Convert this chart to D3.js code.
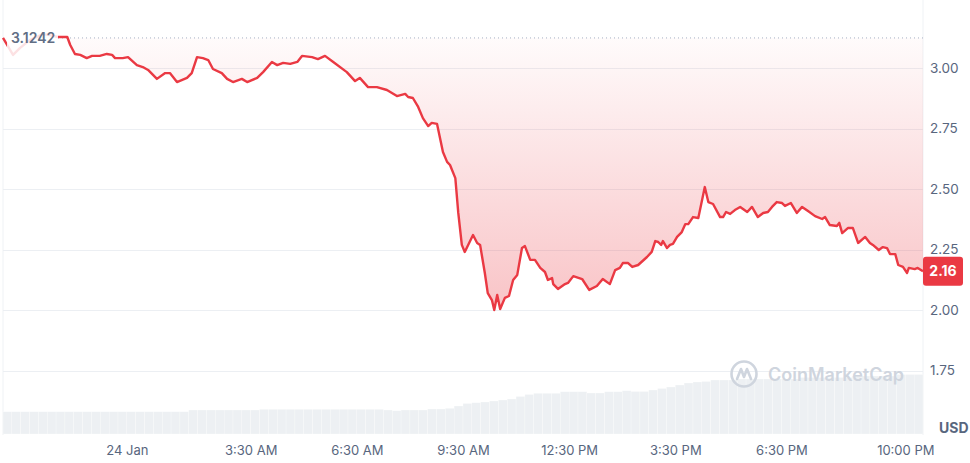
<!DOCTYPE html>
<html>
<head>
<meta charset="utf-8">
<script src="https://cdn.jsdelivr.net/npm/d3@7"></script>
<style>
  body { margin: 0; background: #fff; }
  svg text { font-family: Inter, "Noto Sans", sans-serif; }
</style>
</head>
<body>
<div id="chart"></div>
<script>
// minutes after 23 Jan 20:30
var priceMinutes = [0,8,17,29,46,68,80,93,105,109,114,122,131,142,151,164,176,185,190,203,212,227,237,246,261,275,283,295,312,320,329,339,348,356,371,380,390,405,414,431,441,456,465,475,487,499,507,524,534,546,560,583,597,605,619,634,651,668,682,687,695,704,712,721,727,736,746,753,758,767,772,778,783,797,804,809,817,822,829,833,838,843,851,858,865,872,880,885,894,902,911,919,924,931,933,941,953,958,967,982,994,1007,1017,1029,1038,1046,1051,1060,1067,1077,1092,1100,1106,1111,1116,1119,1126,1131,1136,1143,1151,1157,1162,1170,1179,1190,1196,1204,1216,1221,1226,1233,1241,1250,1262,1270,1280,1289,1297,1304,1312,1321,1326,1336,1346,1355,1365,1377,1389,1394,1402,1414,1418,1423,1433,1441,1450,1462,1470,1475,1485,1492,1499,1504,1513,1518,1526,1533,1536,1546,1551,1560];
var priceValues = [3.1242,3.091,3.054,3.083,3.116,3.140,3.136,3.128,3.128,3.128,3.095,3.058,3.054,3.041,3.050,3.050,3.058,3.054,3.041,3.041,3.045,3.012,3.004,2.992,2.955,2.979,2.979,2.942,2.959,2.979,3.045,3.041,3.033,2.996,2.979,2.955,2.942,2.955,2.942,2.959,2.983,3.025,3.012,3.021,3.017,3.025,3.050,3.045,3.037,3.050,3.025,2.983,2.946,2.959,2.921,2.921,2.909,2.884,2.893,2.880,2.876,2.839,2.793,2.760,2.773,2.769,2.653,2.612,2.599,2.545,2.401,2.269,2.240,2.310,2.277,2.269,2.153,2.070,2.041,2.000,2.062,2.004,2.050,2.058,2.124,2.145,2.256,2.264,2.207,2.207,2.174,2.157,2.124,2.132,2.107,2.087,2.107,2.112,2.140,2.128,2.083,2.099,2.128,2.107,2.165,2.174,2.194,2.194,2.178,2.186,2.219,2.240,2.285,2.281,2.269,2.285,2.256,2.269,2.273,2.302,2.322,2.355,2.355,2.384,2.380,2.508,2.446,2.438,2.384,2.384,2.405,2.397,2.413,2.426,2.405,2.426,2.384,2.401,2.405,2.426,2.446,2.442,2.430,2.442,2.401,2.426,2.409,2.388,2.376,2.384,2.351,2.347,2.360,2.318,2.339,2.339,2.277,2.302,2.277,2.269,2.248,2.260,2.256,2.231,2.231,2.186,2.178,2.153,2.174,2.169,2.174,2.16];

// volume, one bar per 15 minutes (billions)
var volumeValues = [2.23,2.23,2.23,2.23,2.23,2.23,2.23,2.23,2.23,2.23,2.23,2.23,2.23,2.23,2.23,2.23,2.23,2.23,2.23,2.23,2.23,
  2.40,2.40,2.40,2.40,2.40,2.40,2.40,2.40,
  2.47,2.47,2.47,2.47,2.47,2.47,2.47,2.47,2.47,2.47,2.47,2.47,2.47,2.47,
  2.40,2.33,2.40,2.40,2.40,2.50,2.50,2.57,2.80,3.05,3.13,3.20,3.30,3.40,3.50,3.75,3.95,
  4.07,4.07,4.07,4.23,4.23,4.23,4.10,4.10,4.23,4.23,4.33,4.25,4.25,4.40,4.55,4.70,4.90,5.10,5.20,5.25,
  5.40,5.40,5.40,5.50,5.50,5.50,5.50,5.50,5.50,5.50,5.65,5.65,5.65,5.65,5.65,5.65,
  5.80,5.80,5.80,5.80,5.80,5.95,5.95,5.95];

var yTicks = [3.00, 2.75, 2.50, 2.25, 2.00, 1.75];
var xTicks = ["2025-01-24T00:00", "2025-01-24T03:30", "2025-01-24T06:30", "2025-01-24T09:30",
              "2025-01-24T12:30", "2025-01-24T15:30", "2025-01-24T18:30", "2025-01-24T22:00"];
var openPrice = 3.1242;
var lastPrice = 2.16;

var width = 970, height = 463;
var left = 3, right = 923, bottom = 434;
var start = new Date(2025, 0, 23, 20, 30);

var svg = d3.select("#chart").append("svg")
  .attr("width", width)
  .attr("height", height);

var data = priceMinutes.map(function(m, i) {
  return { t: new Date(start.getTime() + m * 60000), p: priceValues[i] };
});

var x = d3.scaleTime()
  .domain([start, new Date(start.getTime() + 1560 * 60000)])
  .range([left, right]);

var y = d3.scaleLinear()
  .domain([2, 3])
  .range([310, 68]);

var yVol = d3.scaleLinear()
  .domain([0, 6])
  .range([bottom, 374]);

// gradient + clips
var defs = svg.append("defs");
var grad = defs.append("linearGradient")
  .attr("id", "redfill")
  .attr("gradientUnits", "userSpaceOnUse")
  .attr("x1", 0).attr("x2", 0)
  .attr("y1", y(openPrice)).attr("y2", y(2.0));
grad.append("stop").attr("offset", 0).attr("stop-color", "#ea3943").attr("stop-opacity", 0.02);
grad.append("stop").attr("offset", 1).attr("stop-color", "#ea3943").attr("stop-opacity", 0.3);

defs.append("clipPath").attr("id", "below")
  .append("rect").attr("x", left).attr("y", y(openPrice)).attr("width", right - left).attr("height", bottom);
defs.append("clipPath").attr("id", "above")
  .append("rect").attr("x", left).attr("y", 0).attr("width", right - left).attr("height", y(openPrice));

// borders
svg.append("line")
  .attr("x1", left).attr("x2", left).attr("y1", 0).attr("y2", bottom + 1)
  .attr("stroke", "#eff2f5");
svg.append("line")
  .attr("x1", right).attr("x2", right).attr("y1", 0).attr("y2", bottom + 1)
  .attr("stroke", "#eff2f5");

// grid
svg.append("g")
  .selectAll("line")
  .data(yTicks)
  .enter()
  .append("line")
    .attr("x1", left).attr("x2", right)
    .attr("y1", function(d) { return Math.round(y(d)) + 0.5; })
    .attr("y2", function(d) { return Math.round(y(d)) + 0.5; })
    .attr("stroke", "#eceff3");

// volume bars
var barW = (right - left) / volumeValues.length;
svg.append("g")
  .selectAll("rect")
  .data(volumeValues)
  .enter()
  .append("rect")
    .attr("x", function(d, i) { return x(new Date(start.getTime() + i * 15 * 60000)); })
    .attr("y", function(d) { return yVol(d); })
    .attr("width", barW)
    .attr("height", function(d) { return bottom - yVol(d); })
    .attr("fill", "#edf0f3")
    .attr("stroke", "#ffffff")
    .attr("stroke-opacity", 0.5)
    .attr("stroke-width", 0.5);

// watermark
var wm = svg.append("g").attr("transform", "translate(744,374)");
wm.append("circle")
  .attr("r", 12.5)
  .attr("fill", "none")
  .attr("stroke", "#cfd5de")
  .attr("stroke-width", 2.6);
wm.append("path")
  .attr("d", "M-7,5 L-3,-5 L0,3 L3,-5 L7,5")
  .attr("fill", "none")
  .attr("stroke", "#cfd5de")
  .attr("stroke-width", 2.6)
  .attr("stroke-linejoin", "round")
  .attr("stroke-linecap", "round");
svg.append("text")
  .attr("x", 768)
  .attr("y", 381)
  .attr("fill", "#cfd5de")
  .attr("font-size", 18)
  .attr("font-weight", 600)
  .text("CoinMarketCap");

// area fill
var area = d3.area()
  .x(function(d) { return x(d.t); })
  .y0(y(openPrice))
  .y1(function(d) { return y(d.p); });

svg.append("path")
  .datum(data)
  .attr("clip-path", "url(#below)")
  .attr("fill", "url(#redfill)")
  .attr("d", area);
svg.append("path")
  .datum(data)
  .attr("clip-path", "url(#above)")
  .attr("fill", "#16c784")
  .attr("fill-opacity", 0.15)
  .attr("d", area);

// open price dotted line
svg.append("line")
  .attr("x1", 58).attr("x2", right)
  .attr("y1", y(openPrice)).attr("y2", y(openPrice))
  .attr("stroke", "#a6b0c3")
  .attr("stroke-width", 1)
  .attr("stroke-dasharray", "1,3");

// price line
svg.append("path")
  .datum(data)
  .attr("fill", "none")
  .attr("stroke", "#ea3943")
  .attr("stroke-width", 2.4)
  .attr("stroke-linejoin", "round")
  .attr("d", d3.line()
    .x(function(d) { return x(d.t); })
    .y(function(d) { return y(d.p); }));

// open price label (white veil over the line)
svg.append("rect")
  .attr("x", 7).attr("y", 25)
  .attr("width", 51).attr("height", 36)
  .attr("fill", "#fff")
  .attr("fill-opacity", 0.85);
svg.append("text")
  .attr("x", 11)
  .attr("y", y(openPrice) + 5)
  .attr("fill", "#616e85")
  .attr("font-size", 14)
  .attr("font-weight", 600)
  .text(d3.format(".4f")(openPrice));

// y axis
svg.append("g")
  .attr("transform", "translate(" + (right + 7) + ",0)")
  .call(d3.axisRight(y).tickValues(yTicks).tickFormat(d3.format(".2f")).tickSize(0))
  .call(function(g) {
    g.select(".domain").remove();
    g.selectAll("text")
      .attr("x", 0)
      .attr("fill", "#58667e")
      .attr("font-size", 13.5)
      .style("font-family", "Inter, sans-serif");
  });

// x axis
svg.append("g")
  .attr("transform", "translate(0," + 443 + ")")
  .call(d3.axisBottom(x)
    .tickValues(xTicks.map(function(s) { return new Date(s); }))
    .tickSize(0)
    .tickFormat(function(d) {
      return d.getHours() === 0 && d.getMinutes() === 0 ? d3.timeFormat("%-d %b")(d) : d3.timeFormat("%-I:%M %p")(d);
    }))
  .call(function(g) {
    g.select(".domain").remove();
    g.selectAll("text")
      .attr("fill", "#58667e")
      .attr("font-size", 13)
      .style("font-family", "Inter, sans-serif");
  });

svg.append("text")
  .attr("x", 939)
  .attr("y", 433)
  .attr("fill", "#58667e")
  .attr("font-size", 14)
  .attr("font-weight", 700)
  .text("USD");

// last price badge
svg.append("rect")
  .attr("x", right)
  .attr("y", y(lastPrice) - 14.5)
  .attr("width", 40)
  .attr("height", 29)
  .attr("rx", 3)
  .attr("fill", "#ea3943");
svg.append("text")
  .attr("x", right + 20)
  .attr("y", y(lastPrice) + 5)
  .attr("text-anchor", "middle")
  .attr("fill", "#fff")
  .attr("font-size", 14)
  .attr("font-weight", 700)
  .text(d3.format(".2f")(lastPrice));
</script>
</body>
</html>
